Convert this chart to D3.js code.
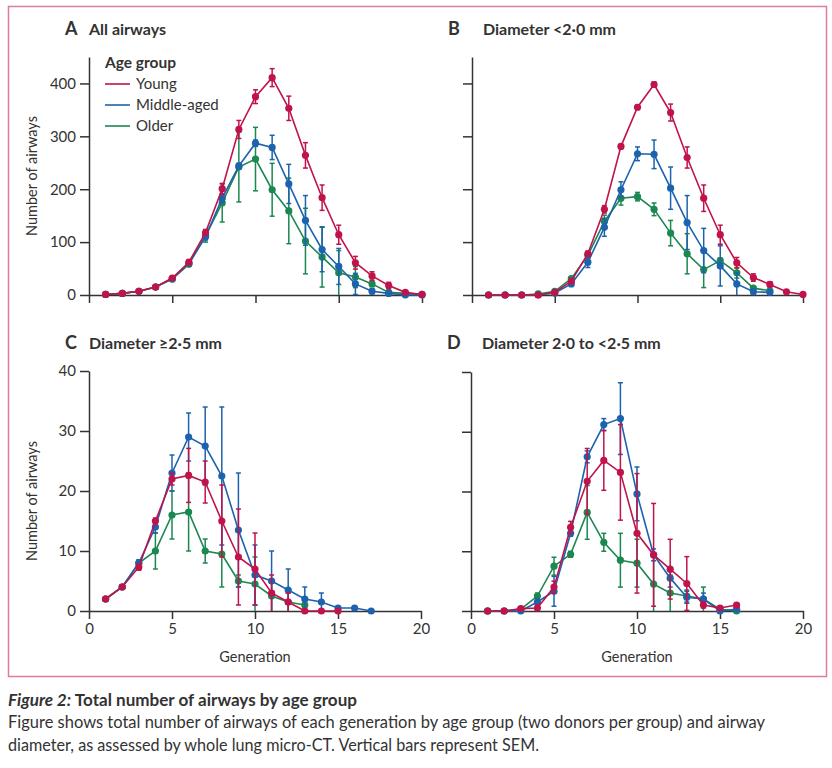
<!doctype html>
<html lang="en">
<head>
<meta charset="utf-8">
<title>Total number of airways by age group</title>
<style>
  body { margin: 0; background: #fff; }
  text { font-family: Lato, "Noto Sans", sans-serif; fill: #333; }
</style>
</head>
<body>
<script src="https://cdnjs.cloudflare.com/ajax/libs/d3/7.8.5/d3.min.js"></script>
<script>

// ---- data (generation index starts at 1) ----
var groups = ["Young", "Middle-aged", "Older"];
var colours = ["#c0134a", "#1d62ae", "#1b8751"];

// A: all airways
var allYoung = [1, 3, 7, 15, 32, 62, 118, 201, 313, 375, 411, 353, 264, 184, 114, 61, 36, 18, 5, 1];
var allYoungErr = [0, 0, 1, 2, 3, 4, 5, 10, 17, 13, 17, 23, 24, 24, 18, 12, 8, 6, 3, 1];
var allMiddle = [1, 3, 7, 15, 31, 60, 110, 183, 244, 287, 279, 210, 141, 86, 54, 21, 7, 3, 0, 0];
var allMiddleErr = [0, 0, 1, 1, 2, 3, 6, 8, 5, 6, 23, 37, 47, 42, 34, 20, 5, 2, 1, 0];
var allOlder = [1, 3, 7, 15, 30, 58, 112, 174, 242, 257, 199, 159, 102, 72, 42, 34, 21, 5, 3, 1];
var allOlderErr = [0, 0, 1, 1, 2, 3, 12, 36, 66, 60, 50, 62, 62, 57, 42, 20, 5, 2, 1, 0];

// B: diameter <2.0 mm
var smallYoung = [0, 0, 0, 0, 5, 26, 78, 162, 281, 355, 398, 345, 260, 183, 114, 61, 33, 20, 6, 1];
var smallYoungErr = [0, 0, 0, 0, 1, 3, 5, 7, 4, 4, 5, 16, 20, 25, 18, 10, 7, 5, 2, 1];
var smallMiddle = [0, 0, 0, 0, 4, 21, 62, 128, 199, 267, 266, 202, 137, 84, 55, 21, 6, 5];
var smallMiddleErr = [0, 0, 0, 0, 1, 3, 10, 17, 15, 13, 27, 40, 51, 42, 38, 21, 4, 3];
var smallOlder = [0, 0, 0, 2, 7, 31, 75, 139, 183, 186, 162, 117, 78, 48, 65, 42, 13, 8];
var smallOlderErr = [0, 0, 0, 1, 2, 3, 5, 12, 13, 8, 12, 24, 38, 34, 5, 10, 3, 2];

// C: diameter >=2.5 mm
var largeYoung = [2, 4, 7.3, 15, 22, 22.6, 21.5, 15, 9, 7, 3, 1.5, 0, 0, 0];
var largeYoungErr = [0.2, 0.3, 0.5, 0.5, 1, 4.5, 3.5, 6, 8, 6, 3, 1.5, 0, 0, 0];
var largeMiddle = [2, 4, 8, 14, 23, 29, 27.5, 22.5, 13.5, 6, 5, 3.5, 2, 1.5, 0.5, 0.5, 0];
var largeMiddleErr = [0.2, 0.3, 0.5, 1, 3, 4, 6.5, 11.5, 9.5, 5, 5, 3.5, 2, 1.5, 0.3, 0.3, 0];
var largeOlder = [2, 4, 8, 10, 16, 16.5, 10, 9.5, 5, 4.5, 2.5, 1.5, 1];
var largeOlderErr = [0.2, 0.3, 0.5, 3, 4, 6.5, 2, 5.5, 1, 4.5, 2.5, 1.5, 0.5];

// D: diameter 2.0 to <2.5 mm
var midYoung = [0, 0, 0.4, 0.5, 4, 14, 21.7, 25.2, 23.2, 13, 9.4, 7, 4.6, 1, 0.5, 1];
var midYoungErr = [0, 0, 0.3, 0.5, 1, 1, 5.5, 5, 8, 10, 8.6, 5, 4.5, 0.5, 0.3, 0.3];
var midMiddle = [0, 0, 0, 1.5, 3.3, 13, 25.8, 31.2, 32.2, 19.6, 9.4, 5.5, 2.3, 2, 0, 0.3];
var midMiddleErr = [0, 0, 0, 0.5, 2.5, 0.5, 1, 1, 6, 4.5, 1, 1.5, 1, 1, 0.2, 0.2];
var midOlder = [0, 0, 0.3, 2.5, 7.5, 9.5, 16.5, 11.5, 8.5, 8, 4.5, 3, 2.5, 2, 0.3, 0];
var midOlderErr = [0, 0, 0.3, 0.5, 1.5, 0.5, 4.5, 1.5, 4.5, 4, 4.5, 3, 1, 2, 0.2, 0];

var xTicks = [0, 5, 10, 15, 20];
var yTicksBig = [0, 100, 200, 300, 400];
var yTicksSmall = [0, 10, 20, 30, 40];

var panels = [
  { letter: "A", title: "All airways", x0: 89, x1: 422, top: 57, bottom: 295, yMax: 450,
    yTicks: yTicksBig, yLabels: true, xLabels: false, legend: true,
    series: [[allYoung, allYoungErr], [allMiddle, allMiddleErr], [allOlder, allOlderErr]] },
  { letter: "B", title: "Diameter <2\u00b70 mm", x0: 472, x1: 803, top: 57, bottom: 295, yMax: 450,
    yTicks: yTicksBig, yLabels: false, xLabels: false,
    series: [[smallYoung, smallYoungErr], [smallMiddle, smallMiddleErr], [smallOlder, smallOlderErr]] },
  { letter: "C", title: "Diameter \u22652\u00b75 mm", x0: 89, x1: 421, top: 371, bottom: 611, yMax: 40,
    yTicks: yTicksSmall, yLabels: true, xLabels: true,
    series: [[largeYoung, largeYoungErr], [largeMiddle, largeMiddleErr], [largeOlder, largeOlderErr]] },
  { letter: "D", title: "Diameter 2\u00b70 to <2\u00b75 mm", x0: 471, x1: 803, top: 372, bottom: 611, yMax: 40,
    yTicks: yTicksSmall, yLabels: false, xLabels: true,
    series: [[midYoung, midYoungErr], [midMiddle, midMiddleErr], [midOlder, midOlderErr]] }
];

var w = 832, h = 768;
var svg = d3.select("body").append("svg").attr("width", w).attr("height", h);

// pink frame
svg.append("rect")
  .attr("x", 8.5).attr("y", 6.5).attr("width", 818).attr("height", 670)
  .attr("fill", "none").attr("stroke", "#de7d9a").attr("stroke-width", 1.5);

panels.forEach(function(p) {
  var x = d3.scaleLinear().domain([0, 20]).range([p.x0, p.x1]);
  var y = d3.scaleLinear().domain([0, p.yMax]).range([p.bottom, p.top]);
  var g = svg.append("g");

  // title
  var titleY = p.top < 100 ? 35 : 349;
  g.append("text").attr("x", p.x0 - 24).attr("y", titleY)
    .attr("font-size", 18).attr("font-weight", "bold").attr("fill", "#222").text(p.letter);
  g.append("text").attr("x", p.x0 + (p.letter == "B" || p.letter == "D" ? 11 : 0)).attr("y", titleY)
    .attr("font-size", 16).attr("font-weight", "bold").attr("fill", "#222").text(p.title);

  // axes
  var xAxis = d3.axisBottom(x).tickValues(xTicks).tickSize(8).tickSizeOuter(0).tickPadding(4);
  if (!p.xLabels) xAxis.tickFormat("");
  var gx = g.append("g").attr("transform", "translate(0," + p.bottom + ")").call(xAxis);

  var yAxis = d3.axisLeft(y).tickValues(p.yTicks).tickSize(9).tickSizeOuter(0).tickPadding(4);
  if (!p.yLabels) yAxis.tickFormat("");
  var gy = g.append("g").attr("transform", "translate(" + p.x0 + ",0)").call(yAxis);

  [gx, gy].forEach(function(a) {
    a.selectAll("path, line").attr("stroke", "#333").attr("stroke-width", 1.5);
    a.selectAll("text").attr("font-size", 15).attr("font-family", "Lato, sans-serif").attr("fill", "#333");
  });

  if (p.xLabels) {
    g.append("text").attr("x", (p.x0 + p.x1) / 2).attr("y", 662)
      .attr("text-anchor", "middle").attr("font-size", 14.5).text("Generation");
  }
  if (p.yLabels) {
    var cy = (p.top + p.bottom) / 2 + (p.letter == "A" ? 0 : 10);
    g.append("text").attr("transform", "translate(37," + cy + ") rotate(-90)")
      .attr("text-anchor", "middle").attr("font-size", 14.5).text("Number of airways");
  }

  // series, older first so young ends on top
  [2, 1, 0].forEach(function(si) {
    var vals = p.series[si][0], errs = p.series[si][1];
    var pts = vals.map(function(v, i) { return { gen: i + 1, v: v, e: errs[i] }; });
    var col = colours[si];

    var line = d3.line().x(function(d) { return x(d.gen); }).y(function(d) { return y(d.v); });
    g.append("path").datum(pts).attr("d", line)
      .attr("fill", "none").attr("stroke", col).attr("stroke-width", 1.6);

    var eb = g.append("g").attr("stroke", col).attr("stroke-width", 1.5);
    pts.filter(function(d) { return d.e > 0; }).forEach(function(d) {
      var hi = y(d.v + d.e), lo = y(Math.max(0, d.v - d.e)), cx = x(d.gen);
      eb.append("line").attr("x1", cx).attr("x2", cx).attr("y1", hi).attr("y2", lo);
      eb.append("line").attr("x1", cx - 2.5).attr("x2", cx + 2.5).attr("y1", hi).attr("y2", hi);
      if (d.v - d.e > 0)
        eb.append("line").attr("x1", cx - 2.5).attr("x2", cx + 2.5).attr("y1", lo).attr("y2", lo);
    });

    g.selectAll(null).data(pts).enter().append("circle")
      .attr("cx", function(d) { return x(d.gen); })
      .attr("cy", function(d) { return y(d.v); })
      .attr("r", 3.6).attr("fill", col);
  });

  // legend
  if (p.legend) {
    var lg = g.append("g");
    lg.append("text").attr("x", 105).attr("y", 68).attr("font-size", 15.5)
      .attr("font-weight", "bold").attr("fill", "#222").text("Age group");
    groups.forEach(function(name, i) {
      var ly = 84 + i * 21;
      lg.append("line").attr("x1", 105).attr("x2", 130).attr("y1", ly).attr("y2", ly)
        .attr("stroke", colours[i]).attr("stroke-width", 1.6);
      lg.append("text").attr("x", 136).attr("y", ly + 5).attr("font-size", 15).text(name);
    });
  }
});

// caption
var cap = svg.append("text").attr("x", 8).attr("y", 706)
  .attr("font-family", "'Liberation Sans Narrow', 'Liberation Sans', sans-serif")
  .attr("font-size", 17).attr("font-weight", "bold").attr("fill", "#222")
  .attr("textLength", 349).attr("lengthAdjust", "spacingAndGlyphs");
cap.append("tspan").attr("font-style", "italic").text("Figure 2: ");
cap.append("tspan").text("Total number of airways by age group");

svg.append("text").attr("x", 8).attr("y", 728)
  .attr("font-family", "'Liberation Sans Narrow', 'Liberation Sans', sans-serif")
  .attr("font-size", 16.5).attr("fill", "#333")
  .attr("textLength", 757).attr("lengthAdjust", "spacingAndGlyphs")
  .text("Figure shows total number of airways of each generation by age group (two donors per group) and airway");
svg.append("text").attr("x", 8).attr("y", 751)
  .attr("font-family", "'Liberation Sans Narrow', 'Liberation Sans', sans-serif")
  .attr("font-size", 16.5).attr("fill", "#333")
  .attr("textLength", 531).attr("lengthAdjust", "spacingAndGlyphs")
  .text("diameter, as assessed by whole lung micro-CT. Vertical bars represent SEM.");

</script>
</body>
</html>
